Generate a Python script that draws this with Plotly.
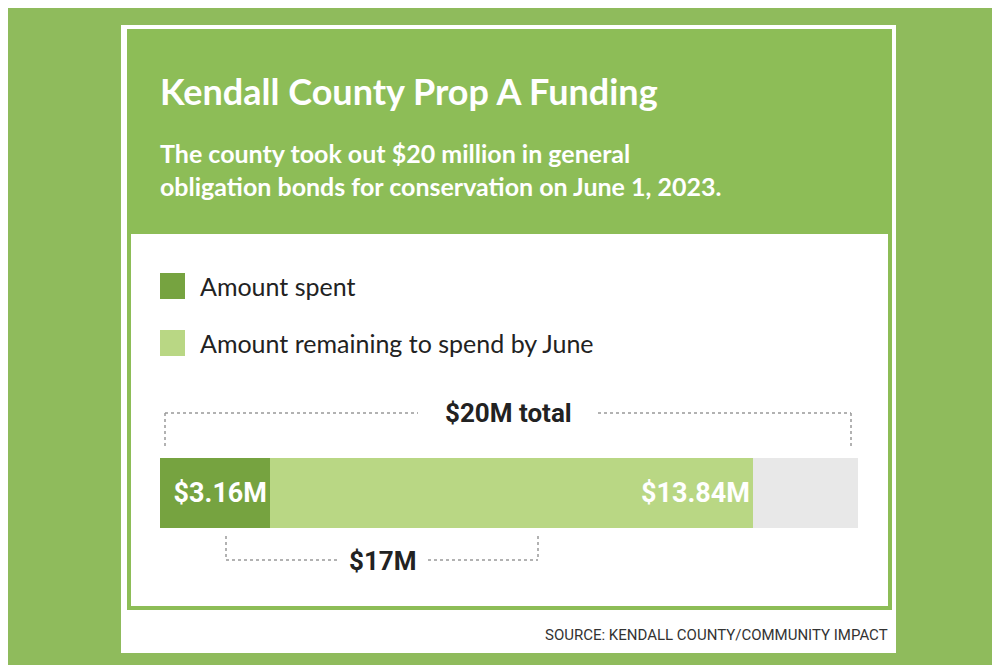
import plotly.graph_objects as go

# data
segments = ["Amount spent", "Amount remaining to spend by June", "Unallocated"]
values = [3.16, 13.84, 3.0]
labels = ["<b>$3.16M</b>", "<b>$13.84M</b>", ""]
colors = ["#76a340", "#b9d784", "#e8e8e8"]
total_label = "$20M total"
sub_label = "$17M"

W, H = 1000, 665
def px(x): return x / W
def py(y): return 1 - y / H

fig = go.Figure()
for name, v, lab, c in zip(segments, values, labels, colors):
    fig.add_trace(go.Bar(
        y=["bond"], x=[v], orientation="h", name=name,
        marker=dict(color=c, line=dict(width=0)),
        text=[lab], textposition="inside", insidetextanchor="end",
        textfont=dict(color="white", size=27, family="Roboto"),
        showlegend=False, hoverinfo="skip",
    ))

shapes = [
    dict(type="rect", xref="paper", yref="paper", x0=px(113), x1=px(888), y0=py(645), y1=py(17),
         fillcolor="white", line=dict(width=0), layer="below"),
    dict(type="rect", xref="paper", yref="paper", x0=px(121), x1=px(882), y0=py(600), y1=py(23),
         fillcolor="white", line=dict(color="#8dbd57", width=4), layer="below"),
    dict(type="rect", xref="paper", yref="paper", x0=px(121), x1=px(882), y0=py(226), y1=py(23),
         fillcolor="#8dbd57", line=dict(width=0), layer="below"),
    # legend squares
    dict(type="rect", xref="paper", yref="paper", x0=px(152), x1=px(177), y0=py(291), y1=py(265),
         fillcolor=colors[0], line=dict(width=0)),
    dict(type="rect", xref="paper", yref="paper", x0=px(152), x1=px(177), y0=py(348), y1=py(322),
         fillcolor=colors[1], line=dict(width=0)),
]
dot = dict(color="#999999", width=1.5, dash="dot")
# brackets
for x0, y0, x1, y1 in [(157, 405, 410, 405), (590, 405, 843, 405), (157, 405, 157, 438), (843, 405, 843, 438),
                       (218, 528, 218, 552), (530, 528, 530, 552), (218, 552, 330, 552), (420, 552, 530, 552)]:
    shapes.append(dict(type="line", xref="paper", yref="paper", x0=px(x0), x1=px(x1), y0=py(y0), y1=py(y1), line=dot))

ann = [
    dict(text="<b>Kendall County Prop A Funding</b>", x=px(150), y=py(83), font=dict(size=36, color="white", family="Lato")),
    dict(text="<b>The county took out $20 million in general<br>obligation bonds for conservation on June 1, 2023.</b>",
         x=px(150), y=py(162), font=dict(size=25, color="white", family="Lato")),
    dict(text=segments[0], x=px(190), y=py(278), font=dict(size=25, color="#222", family="Lato")),
    dict(text=segments[1], x=px(190), y=py(335), font=dict(size=25, color="#222", family="Lato")),
    dict(text="<b>" + total_label + "</b>", x=px(500), y=py(405), xanchor="center", font=dict(size=26, color="#222", family="Roboto")),
    dict(text="<b>" + sub_label + "</b>", x=px(375), y=py(553), xanchor="center", font=dict(size=26, color="#222", family="Roboto")),
    dict(text="SOURCE: KENDALL COUNTY/COMMUNITY IMPACT", x=px(882), y=py(627), xanchor="right",
         font=dict(size=15, color="#333", family="Roboto")),
]
for a in ann:
    a.setdefault("xanchor", "left")
    a.update(xref="paper", yref="paper", showarrow=False, yanchor="middle", align="left")

fig.update_layout(
    width=W, height=H, margin=dict(l=0, r=0, t=0, b=0),
    paper_bgcolor="#8fbb5c", plot_bgcolor="rgba(0,0,0,0)",
    barmode="stack", bargap=0, shapes=shapes, annotations=ann,
    xaxis=dict(domain=[px(152), px(850)], range=[0, sum(values)], visible=False, fixedrange=True),
    yaxis=dict(domain=[py(520), py(450)], visible=False, fixedrange=True),
)
fig.write_html("out.html")
